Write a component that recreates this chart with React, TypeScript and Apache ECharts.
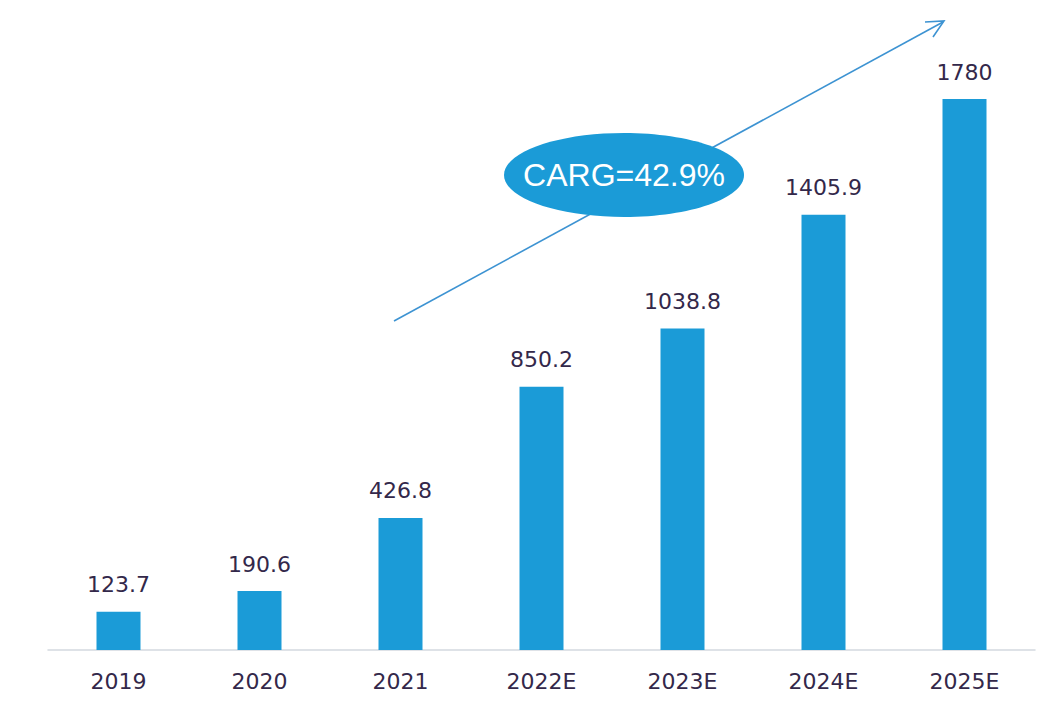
import React, { useEffect, useRef } from "react";
import * as echarts from "echarts";

const categories = ["2019", "2020", "2021", "2022E", "2023E", "2024E", "2025E"];
const values = [123.7, 190.6, 426.8, 850.2, 1038.8, 1405.9, 1780];
const cagrText = "CARG=42.9%";

const BAR_COLOR = "#1b9bd7";
const TEXT_COLOR = "#33284a";

export default function App() {
  const ref = useRef<HTMLDivElement>(null);
  useEffect(() => {
    if (!ref.current) return;
    const chart = echarts.init(ref.current, null, { renderer: "svg" });
    chart.setOption({
      animation: false,
      backgroundColor: "#ffffff",
      grid: { left: 48, right: 21, top: 31, bottom: 66 },
      xAxis: {
        type: "category",
        data: categories,
        axisLine: { lineStyle: { color: "#d3d9df", width: 1.5 } },
        axisTick: { show: false },
        axisLabel: {
          color: TEXT_COLOR,
          fontFamily: "DejaVu Sans",
          fontSize: 22,
          margin: 20,
        },
      },
      yAxis: {
        type: "value",
        min: 0,
        max: 2000,
        show: false,
        splitLine: { show: false },
      },
      series: [
        {
          type: "bar",
          data: values,
          barWidth: 44,
          itemStyle: { color: BAR_COLOR },
          label: {
            show: true,
            position: "top",
            distance: 16,
            color: TEXT_COLOR,
            fontFamily: "DejaVu Sans",
            fontSize: 22,
          },
        },
      ],
      graphic: [
        {
          type: "line",
          shape: { x1: 394, y1: 321, x2: 943, y2: 22 },
          style: { stroke: "#3d93d2", lineWidth: 1.6 },
          z: 10,
        },
        {
          type: "polyline",
          shape: { points: [[925, 22], [944, 21], [933, 37]] },
          style: { stroke: "#3d93d2", lineWidth: 1.6, fill: null },
          z: 10,
        },
        {
          type: "ellipse",
          shape: { cx: 624, cy: 175, rx: 120, ry: 42 },
          style: { fill: BAR_COLOR },
          z: 20,
        },
        {
          type: "text",
          x: 624,
          y: 175,
          style: {
            text: cagrText,
            fill: "#ffffff",
            font: "32px 'Liberation Sans', Arial, sans-serif",
            align: "center",
            verticalAlign: "middle",
          },
          z: 21,
        },
      ],
    });
    return () => chart.dispose();
  }, []);
  return (
    <div
      ref={ref}
      style={{ position: "fixed", left: 0, top: 0, width: 1056, height: 716 }}
    />
  );
}
